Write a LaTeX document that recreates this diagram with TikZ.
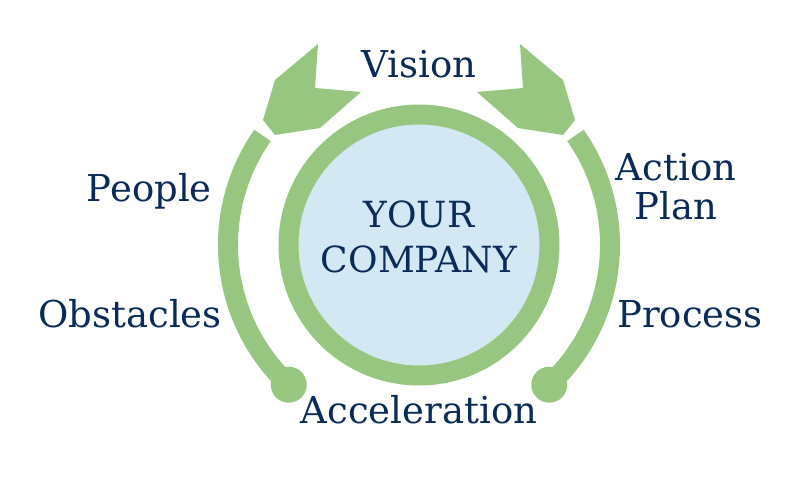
\documentclass[tikz,border=0pt]{standalone}
\usepackage{fontspec}
\setmainfont{DejaVu Serif}
\usepackage{tikz}
\usetikzlibrary{positioning}
\definecolor{leaf}{HTML}{97C680}
\definecolor{sky}{HTML}{D4E8F4}
\definecolor{navy}{HTML}{0A2B58}
\tikzstyle{tag}=[text=navy,inner sep=0pt,font=\fontsize{37}{39}\selectfont]
\tikzstyle{hub}=[circle,draw=leaf,fill=sky,line width=20pt,minimum size=261pt,inner sep=0pt]
\tikzstyle{band}=[draw=leaf,line width=20pt,line cap=butt]
\tikzstyle{knob}=[circle,fill=leaf,minimum size=36pt,inner sep=0pt]

\begin{document}
\begin{tikzpicture}[x=1pt,y=1pt]
      \useasboundingbox (-419,-250) rectangle (386,245);
      \node[hub] (hub) at (0,0) {};
      \node[tag,align=center,anchor=south,font=\fontsize{36}{45}\selectfont] (name) at (0,-28) {YOUR\\COMPANY};
      % side arcs
      \draw[band] (145:191pt) arc[start angle=145,end angle=227,radius=191pt] coordinate (l);
      \draw[band] (35:191pt) arc[start angle=35,end angle=-47,radius=191pt] coordinate (r);
      \node[knob] (ldot) at (l) {};
      \node[knob] (rdot) at (r) {};
      % arrow heads
      \foreach \s in {1,-1}
        \fill[leaf,xscale=\s] (-101,201) -- (-104,157) -- (-58,153) -- (-99,117)
          -- (-144,110) -- (-156,125) -- (-144,165) -- cycle;
      \node[tag,anchor=base] (vision) at (0,167) {Vision};
      \node[tag,anchor=base east] (people) at (-207,43) {People};
      \node[tag,anchor=base east] (obst) at (-197,-82) {Obstacles};
      \node[tag,align=center,anchor=south] (plan) at (257,25) {Action\\Plan};
      \node[tag,anchor=base west] (proc) at (198,-82) {Process};
      \node[tag,anchor=base] (acc) at (0,-178) {Acceleration};
\end{tikzpicture}
\end{document}
